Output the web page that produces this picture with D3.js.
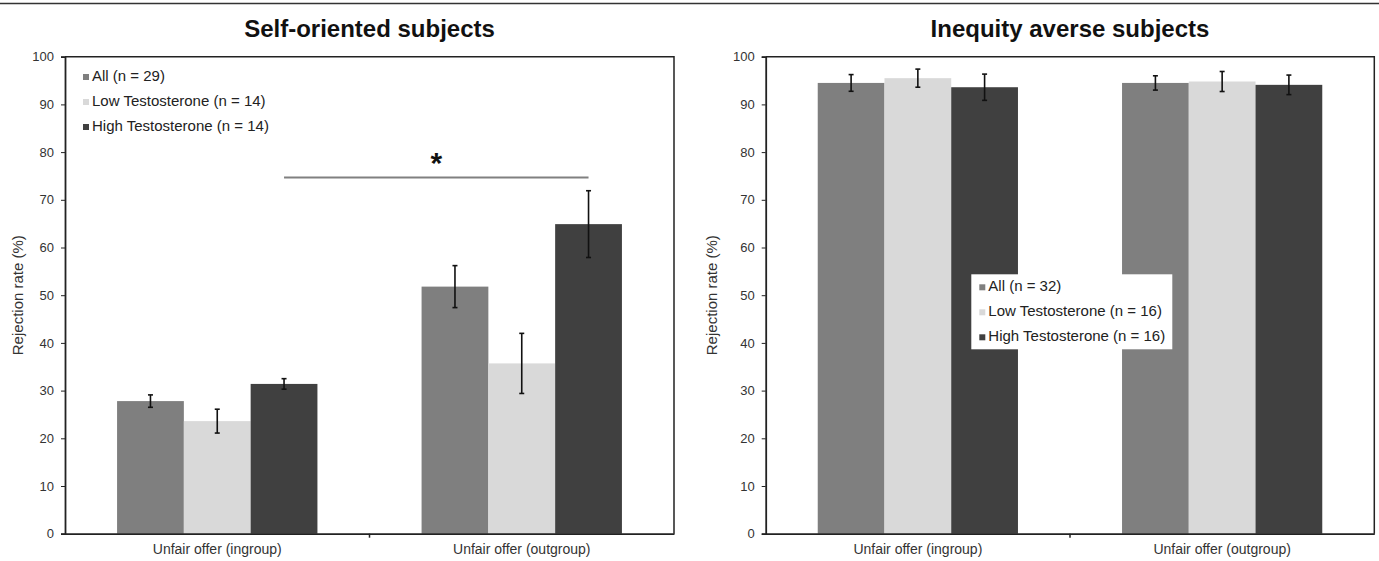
<!DOCTYPE html>
<html>
<head>
<meta charset="utf-8">
<script src="https://cdn.jsdelivr.net/npm/d3@7"></script>
<style>
  body { margin: 0; background: #fff; }
  svg { display: block; font-family: "Liberation Sans", Arial, sans-serif; }
  .tick text { fill: #333; font-size: 13px; }
</style>
</head>
<body>
<svg id="chart" width="1379" height="561"></svg>
<script>
// categories and series
const categories = ['Unfair offer (ingroup)', 'Unfair offer (outgroup)'];
const series = ['all', 'low', 'high'];
const colors = ['#7f7f7f', '#d9d9d9', '#404040'];
const yTicks = [0, 10, 20, 30, 40, 50, 60, 70, 80, 90, 100];

// Self-oriented subjects: mean rejection rate and error (per category)
const selfAll = [27.8, 51.8];
const selfAllErr = [1.3, 4.4];
const selfLow = [23.6, 35.7];
const selfLowErr = [2.5, 6.3];
const selfHigh = [31.4, 64.9];
const selfHighErr = [1.1, 7.0];
const selfLegend = ['All (n = 29)', 'Low Testosterone (n = 14)', 'High Testosterone (n = 14)'];

// Inequity averse subjects
const ineqAll = [94.5, 94.5];
const ineqAllErr = [1.75, 1.5];
const ineqLow = [95.5, 94.8];
const ineqLowErr = [1.9, 2.1];
const ineqHigh = [93.6, 94.1];
const ineqHighErr = [2.75, 2.05];
const ineqLegend = ['All (n = 32)', 'Low Testosterone (n = 16)', 'High Testosterone (n = 16)'];

// significance bracket (self-oriented, high T ingroup vs outgroup)
const sigLevel = 74.7;
const sigStarLevel = 78.5;

const svg = d3.select('#chart');

// thin rule along the top of the figure
svg.append('line')
    .attr('x1', 0).attr('x2', 1379).attr('y1', 3.5).attr('y2', 3.5)
    .attr('stroke', '#333').attr('stroke-width', 1.5);

function buildRows(means, errs) {
    // one row per category with each series value/error
    return categories.map((c, i) => ({
        cat: c,
        bars: series.map((s, j) => ({key: s, v: means[j][i], e: errs[j][i], color: colors[j]}))
    }));
}

function drawPanel(opts) {
    const left = opts.left, top = 56.7, bottom = 533.7, width = opts.width;
    const g = svg.append('g').attr('transform', `translate(${left}, 0)`);

    const y = d3.scaleLinear().domain([0, 100]).range([bottom, top]);
    const x0 = d3.scaleBand().domain(categories).range([0, width]);
    const pad = 0.171 * x0.bandwidth();
    const x1 = d3.scaleBand().domain(series).range([pad, x0.bandwidth() - pad]);

    // title
    svg.append('text')
        .attr('x', left + width / 2).attr('y', 37)
        .attr('text-anchor', 'middle')
        .attr('font-size', 24).attr('font-weight', 'bold').attr('fill', '#111')
        .text(opts.title);

    // y label
    g.append('text')
        .attr('transform', `translate(${opts.labelDx}, ${(top + bottom) / 2}) rotate(-90)`)
        .attr('text-anchor', 'middle').attr('dominant-baseline', 'middle')
        .attr('font-size', 15).attr('fill', '#333')
        .text('Rejection rate (%)');

    // bars
    const groups = g.selectAll('g.grp')
        .data(opts.rows).enter().append('g')
        .attr('class', 'grp')
        .attr('transform', d => `translate(${x0(d.cat)}, 0)`);
    groups.selectAll('rect')
        .data(d => d.bars).enter().append('rect')
        .attr('x', d => x1(d.key))
        .attr('width', x1.bandwidth())
        .attr('y', d => y(d.v))
        .attr('height', d => y(0) - y(d.v))
        .attr('fill', d => d.color);

    // error bars
    const eb = groups.selectAll('g.err')
        .data(d => d.bars).enter().append('g').attr('class', 'err')
        .attr('stroke', '#111').attr('stroke-width', 1.6);
    eb.append('line')
        .attr('x1', d => x1(d.key) + x1.bandwidth() / 2)
        .attr('x2', d => x1(d.key) + x1.bandwidth() / 2)
        .attr('y1', d => y(d.v + d.e)).attr('y2', d => y(d.v - d.e));
    for (let sgn of [1, -1]) {
        eb.append('line')
            .attr('x1', d => x1(d.key) + x1.bandwidth() / 2 - 2.5)
            .attr('x2', d => x1(d.key) + x1.bandwidth() / 2 + 2.5)
            .attr('y1', d => y(d.v + sgn * d.e)).attr('y2', d => y(d.v + sgn * d.e));
    }

    // frame: top and right
    g.append('path')
        .attr('d', `M0,${top}H${width}V${bottom}`)
        .attr('fill', 'none').attr('stroke', '#222').attr('stroke-width', 1.5);

    // y axis
    const yAxis = d3.axisLeft(y).tickValues(yTicks).tickSize(4).tickPadding(7);
    const gy = g.append('g').call(yAxis);
    gy.select('.domain').attr('stroke', '#222').attr('stroke-width', 1.8);
    gy.selectAll('.tick line').attr('stroke', '#222');

    // x axis
    const xAxis = d3.axisBottom(x0).tickSize(0).tickPadding(10);
    const gx = g.append('g').attr('transform', `translate(0, ${bottom})`).call(xAxis);
    gx.select('.domain').attr('stroke', '#222').attr('stroke-width', 1.8);
    gx.selectAll('.tick text').style('font-size', '14px');
    // divider tick between categories
    g.append('line')
        .attr('x1', x0.bandwidth()).attr('x2', x0.bandwidth())
        .attr('y1', bottom).attr('y2', bottom + 4)
        .attr('stroke', '#222').attr('stroke-width', 1.5);

    // legend
    const lg = g.append('g').attr('transform', `translate(${opts.legend.x}, ${opts.legend.y})`);
    if (opts.legend.box) {
        lg.append('rect')
            .attr('x', -8).attr('y', -13).attr('width', 201).attr('height', 75)
            .attr('fill', '#fff');
    }
    const item = lg.selectAll('g.item')
        .data(opts.legendLabels).enter().append('g')
        .attr('transform', (d, i) => `translate(0, ${i * 25})`);
    item.append('rect')
        .attr('x', 0).attr('y', -3).attr('width', 6).attr('height', 6)
        .attr('fill', (d, i) => colors[i]);
    item.append('text')
        .attr('x', 9).attr('y', 0).attr('dominant-baseline', 'middle')
        .attr('font-size', 15).attr('fill', '#222')
        .text(d => d);

    return {g, x0, x1, y};
}

const p1 = drawPanel({
    left: 65, width: 609, title: 'Self-oriented subjects', labelDx: -46,
    rows: buildRows([selfAll, selfLow, selfHigh], [selfAllErr, selfLowErr, selfHighErr]),
    legendLabels: selfLegend, legend: {x: 18, y: 77, box: false}
});

drawPanel({
    left: 765.7, width: 608.6, title: 'Inequity averse subjects', labelDx: -53,
    rows: buildRows([ineqAll, ineqLow, ineqHigh], [ineqAllErr, ineqLowErr, ineqHighErr]),
    legendLabels: ineqLegend, legend: {x: 213.6, y: 287.3, box: true}
});

// significance line between high-T bars
const hx = c => p1.x0(c) + p1.x1('high') + p1.x1.bandwidth() / 2;
p1.g.append('line')
    .attr('x1', hx(categories[0])).attr('x2', hx(categories[1]))
    .attr('y1', p1.y(sigLevel)).attr('y2', p1.y(sigLevel))
    .attr('stroke', '#808080').attr('stroke-width', 2);
p1.g.append('text')
    .attr('x', (hx(categories[0]) + hx(categories[1])) / 2)
    .attr('y', p1.y(sigStarLevel) + 14)
    .attr('text-anchor', 'middle')
    .attr('font-size', 30).attr('font-weight', 'bold').attr('fill', '#111')
    .text('*');
</script>
</body>
</html>
